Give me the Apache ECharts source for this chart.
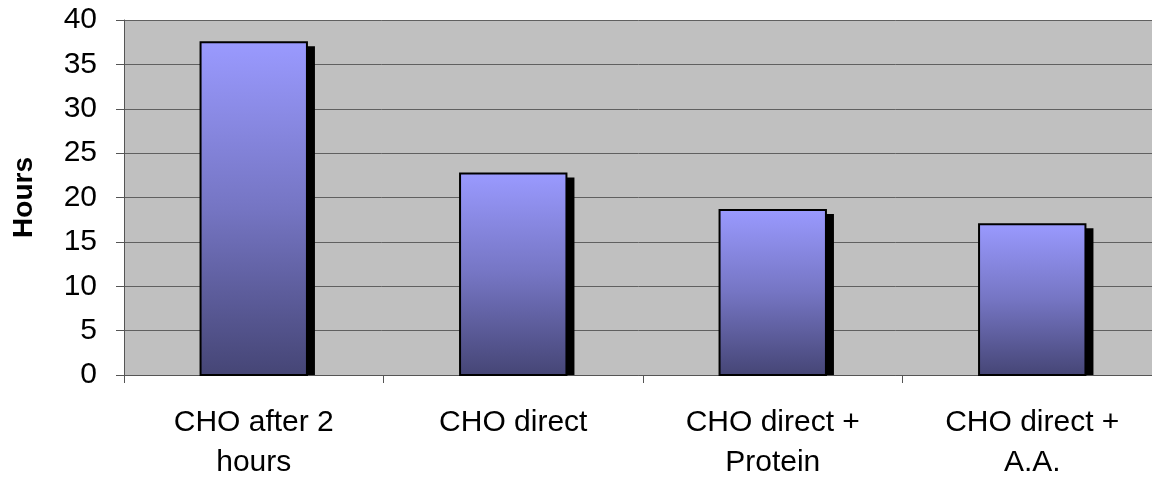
<!DOCTYPE html>
<html><head><meta charset="utf-8">
<script src="https://cdn.jsdelivr.net/npm/echarts@6/dist/echarts.min.js"></script>
<style>html,body{margin:0;padding:0;background:#fff;}#c{width:1152px;height:477px;}</style>
</head><body><div id="c"></div>
<script>
const categories = ["CHO after 2\nhours", "CHO direct", "CHO direct +\nProtein", "CHO direct +\nA.A."];
const hours = [37.5, 22.7, 18.6, 17.0];
const yTicks = [0, 5, 10, 15, 20, 25, 30, 35, 40];

const chart = echarts.init(document.getElementById('c'), null, {renderer: 'canvas'});
const barFill = new echarts.graphic.LinearGradient(0, 0, 0, 1, [
  {offset: 0, color: '#9a9aff'},
  {offset: 0.5, color: '#7575c3'},
  {offset: 1, color: '#454575'}
]);
chart.setOption({
  animation: false,
  backgroundColor: '#ffffff',
  grid: {left: 124, right: -10, top: 20, bottom: 102, outerBoundsMode: 'none', containLabel: false,
         show: true, backgroundColor: '#c0c0c0', borderWidth: 0},
  xAxis: {
    type: 'category', data: categories,
    axisLine: {show: true, lineStyle: {color: '#555555', width: 1}},
    axisTick: {show: true, length: 8, lineStyle: {color: '#555555'}},
    axisLabel: {fontFamily: 'Liberation Sans, Arial', fontSize: 30, color: '#000', margin: 28, lineHeight: 40},
    splitLine: {show: false}
  },
  yAxis: {
    type: 'value', min: yTicks[0], max: yTicks[yTicks.length - 1], interval: 5,
    name: 'Hours', nameLocation: 'middle', nameGap: 86, nameRotate: 90,
    nameTextStyle: {fontFamily: 'Liberation Sans, Arial', fontSize: 28, fontWeight: 'bold', color: '#000'},
    axisLine: {show: true, lineStyle: {color: '#555555', width: 1}},
    axisTick: {show: true, length: 8, lineStyle: {color: '#555555'}},
    axisLabel: {fontFamily: 'Liberation Sans, Arial', fontSize: 30, color: '#000', margin: 27},
    splitLine: {show: true, lineStyle: {color: '#606060', width: 1}}
  },
  series: [{
    type: 'custom',
    data: hours.map((v, i) => [i, v]),
    encode: {x: 0, y: 1},
    renderItem: function (params, api) {
      const top = api.coord([api.value(0), api.value(1)]);
      const base = api.coord([api.value(0), 0]);
      const band = api.size([1, 0])[0];
      const w = band * 0.41;
      const x = top[0] - w / 2;
      const h = base[1] - top[1];
      return {
        type: 'group',
        children: [
          {type: 'rect', shape: {x: x + 8, y: top[1] + 4, width: w, height: h - 4}, style: {fill: '#000'}},
          {type: 'rect', shape: {x: x, y: top[1], width: w, height: h}, style: {fill: barFill, stroke: '#000', lineWidth: 2}}
        ]
      };
    }
  }]
});
</script></body></html>
